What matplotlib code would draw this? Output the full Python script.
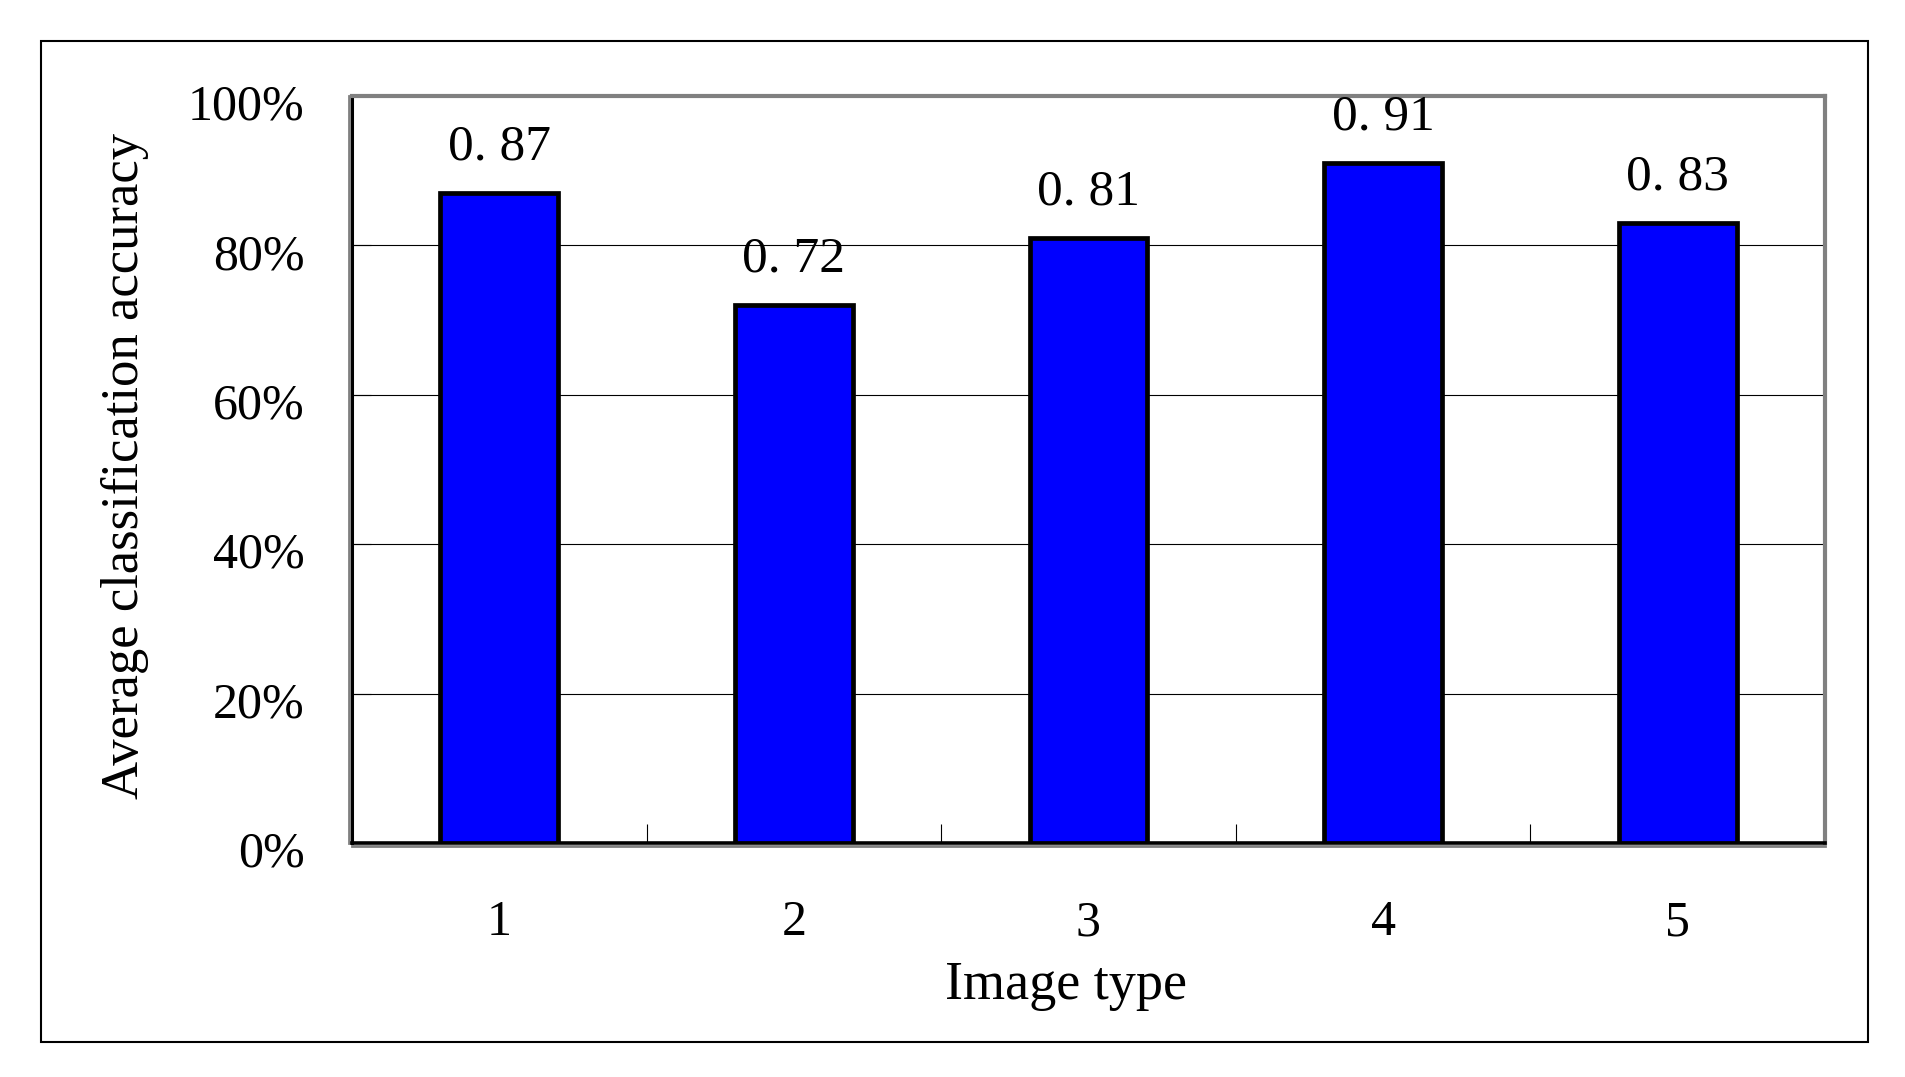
import numpy as np
import matplotlib
matplotlib.use("Agg")
import matplotlib.pyplot as plt
from matplotlib.patches import Rectangle
from matplotlib.transforms import ScaledTranslation

# --- chart data ---
image_types = ["1", "2", "3", "4", "5"]
accuracy = [0.87, 0.72, 0.81, 0.91, 0.83]
y_ticks = [0.0, 0.2, 0.4, 0.6, 0.8, 1.0]
y_tick_labels = ["0%", "20%", "40%", "60%", "80%", "100%"]
x_title = "Image type"
y_title = "Average classification accuracy"

plt.rcParams['font.family'] = ['Liberation Serif', 'DejaVu Serif']

W, H, DPI = 1905, 1077, 100
fig = plt.figure(figsize=(W / DPI, H / DPI), dpi=DPI)

# outer chart frame
fig.patches.append(Rectangle((41 / W, 1 - 1042 / H), (1868 - 41) / W, (1042 - 41) / H,
                             transform=fig.transFigure, fill=False,
                             edgecolor='black', linewidth=1.5))

# plot area
ax = fig.add_axes([352 / W, 1 - 843 / H, (1825 - 352) / W, (843 - 96) / H])

x = np.arange(len(image_types))
ax.bar(x, accuracy, width=0.4, color='#0000FF', edgecolor='black',
       linewidth=3.4, zorder=3)

for xi, v in zip(x, accuracy):
    label = f"{v:.2f}".replace('.', '. ')
    ax.annotate(label, (xi, v), xytext=(0, 24), textcoords='offset points',
                ha='center', va='baseline', fontsize=37)

ax.set_xlim(-0.5, len(image_types) - 0.5)
ax.set_ylim(0, 1.0)

# gridlines at the major y positions (excluding 0 and top)
for yv in y_ticks[1:-1]:
    ax.axhline(yv, color='black', linewidth=0.8, zorder=1)

# spines: gray frame, black axis lines on left/bottom
for side in ['top', 'right']:
    ax.spines[side].set_color('#808080')
    ax.spines[side].set_linewidth(3)
ax.spines['left'].set_color('black')
ax.spines['left'].set_linewidth(2.2)
ax.spines['bottom'].set_color('black')
ax.spines['bottom'].set_linewidth(2.6)
# gray shadow outside left/bottom axis lines
shadow_l = ScaledTranslation(-3 / DPI, 0, fig.dpi_scale_trans)
shadow_b = ScaledTranslation(0, -3 / DPI, fig.dpi_scale_trans)
ax.plot([0, 0], [0, 1], transform=ax.transAxes + shadow_l, color='#808080',
        linewidth=2, clip_on=False, zorder=0)
ax.plot([0, 1], [0, 0], transform=ax.transAxes + shadow_b, color='#808080',
        linewidth=2, clip_on=False, zorder=0)

ax.set_yticks(y_ticks)
ax.set_yticklabels(y_tick_labels, fontsize=36)
ax.tick_params(axis='y', direction='in', length=14, width=0.8, color='black', pad=34)
label_shift = ScaledTranslation(0, -6 / DPI, fig.dpi_scale_trans)
for lab in ax.get_yticklabels():
    lab.set_transform(lab.get_transform() + label_shift)

ax.set_xticks(x)
ax.set_xticklabels(image_types, fontsize=36)
ax.set_xticks(np.arange(-0.5, len(image_types)), minor=True)
ax.tick_params(axis='x', which='major', length=0, pad=41)
ax.tick_params(axis='x', which='minor', direction='in', length=14, width=0.8, color='black')

fig.text(1066 / W, 1 - 999 / H, x_title, ha='center', va='baseline', fontsize=39)
fig.text(125 / W, 1 - 466 / H, y_title, ha='center', va='center', rotation=90, fontsize=38)

fig.savefig("out.png", dpi=DPI)
